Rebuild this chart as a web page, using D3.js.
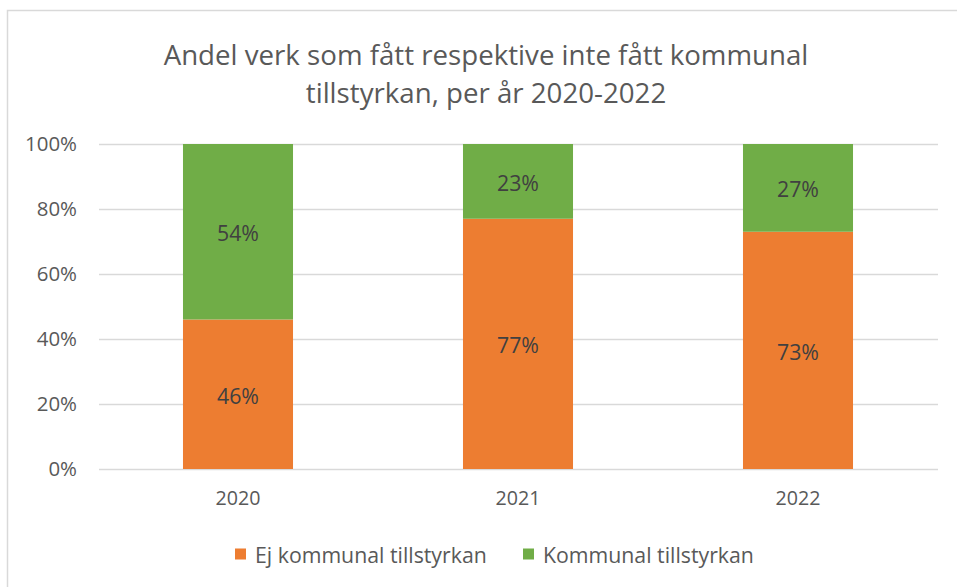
<!DOCTYPE html>
<html>
<head>
<meta charset="utf-8">
<script src="https://cdn.jsdelivr.net/npm/d3@7"></script>
<style>
body { margin:0; background:#fff; }
text { font-family:"Open Sans", sans-serif; }
</style>
</head>
<body>
<script>
var years = ["2020","2021","2022"];
var ej_kommunal = [0.46,0.77,0.73];
var kommunal = [0.54,0.23,0.27];
var series_names = ["Ej kommunal tillstyrkan","Kommunal tillstyrkan"];
var y_ticks = [0,0.2,0.4,0.6,0.8,1.0];
var title_lines = ["Andel verk som fått respektive inte fått kommunal","tillstyrkan, per år 2020-2022"];

var width = 957;
var height = 587;
var colors = ["#ED7D31","#70AD47"];
var text_color = "#595959";

// scale font of a whole group so that one of its texts gets the reference width
function fit(sel, idx, target)
{
	var node = sel.nodes()[idx];
	var fs = parseFloat(d3.select(node).attr("font-size"));
	var w = node.getComputedTextLength();
	if (w > 0) sel.attr("font-size", fs*target/w);
}

var svg = d3.select("body")
	.append("svg")
	.attr("width",width)
	.attr("height",height);

svg.append("rect")
	.attr("x",7.5)
	.attr("y",10.5)
	.attr("width",width+20)
	.attr("height",height+20)
	.attr("fill","#fff")
	.attr("stroke","#D9D9D9")
	.attr("stroke-width",1.5);

var x_scale = d3.scaleBand()
	.domain(years)
	.range([98,938])
	.paddingInner(0.607)
	.paddingOuter(0.3035);

var y_scale = d3.scaleLinear()
	.domain([0,1])
	.range([469,144]);

// gridlines
svg.append("g")
	.selectAll("line")
	.data(y_ticks)
	.enter()
	.append("line")
	.attr("x1",99)
	.attr("x2",938)
	.attr("y1",function(d){ return Math.round(y_scale(d))+0.5; })
	.attr("y2",function(d){ return Math.round(y_scale(d))+0.5; })
	.attr("stroke","#D9D9D9")
	.attr("stroke-width",1.5);

var y_axis = d3.axisLeft(y_scale)
	.tickValues(y_ticks)
	.tickFormat(d3.format(".0%"))
	.tickSize(0)
	.tickPadding(21);

var gy = svg.append("g")
	.attr("transform","translate(98,0)")
	.call(y_axis);
gy.select(".domain").remove();
var y_text = gy.selectAll("text")
	.attr("font-size",16)
	.attr("fill",text_color)
	.style("font-family","'Open Sans', sans-serif");
fit(y_text,5,52);

var x_axis = d3.axisBottom(x_scale)
	.tickSize(0)
	.tickPadding(22);

var gx = svg.append("g")
	.attr("transform","translate(0,469)")
	.call(x_axis);
gx.select(".domain").remove();
var x_text = gx.selectAll("text")
	.attr("font-size",16)
	.attr("fill",text_color)
	.style("font-family","'Open Sans', sans-serif");
fit(x_text,0,45);

// stacked bars
var stack_data = years.map(function(y,i)
{
	return {year:y, ej:ej_kommunal[i], kom:kommunal[i]};
});
var stacked = d3.stack().keys(["ej","kom"])(stack_data);

svg.selectAll("g.layer")
	.data(stacked)
	.enter()
	.append("g")
	.attr("class","layer")
	.attr("fill",function(d,i){ return colors[i]; })
	.selectAll("rect")
	.data(function(d){ return d; })
	.enter()
	.append("rect")
	.attr("x",function(d){ return x_scale(d.data.year); })
	.attr("width",x_scale.bandwidth())
	.attr("y",function(d){ return y_scale(d[1]); })
	.attr("height",function(d){ return y_scale(d[0])-y_scale(d[1]); });

var bar_labels = svg.append("g")
	.selectAll("text")
	.data(stacked[0].concat(stacked[1]))
	.enter()
	.append("text")
	.attr("x",function(d){ return x_scale(d.data.year)+x_scale.bandwidth()/2; })
	.attr("y",function(d){ return y_scale((d[0]+d[1])/2)+1; })
	.attr("text-anchor","middle")
	.attr("dominant-baseline","central")
	.attr("font-size",16)
	.attr("fill","#404040")
	.text(function(d){ return d3.format(".0%")(d[1]-d[0]); });
fit(bar_labels,3,42);

// title
var title = svg.selectAll("text.title")
	.data(title_lines)
	.enter()
	.append("text")
	.attr("class","title")
	.attr("x",486)
	.attr("y",function(d,i){ return 65+i*38; })
	.attr("text-anchor","middle")
	.attr("font-size",22)
	.attr("fill",text_color)
	.text(function(d){ return d; });
fit(title,0,645);

// legend
var legend_x = [235,523];
var legend = svg.selectAll("g.legend")
	.data(series_names)
	.enter()
	.append("g")
	.attr("class","legend")
	.attr("transform",function(d,i){ return "translate("+legend_x[i]+",554)"; });
legend.append("rect")
	.attr("x",0)
	.attr("y",-5.5)
	.attr("width",11)
	.attr("height",11)
	.attr("fill",function(d,i){ return colors[i]; });
var legend_text = legend.append("text")
	.attr("x",20)
	.attr("y",0)
	.attr("dominant-baseline","central")
	.attr("font-size",17)
	.attr("fill",text_color)
	.text(function(d){ return d; });
fit(legend_text,0,232);
</script>
</body>
</html>
